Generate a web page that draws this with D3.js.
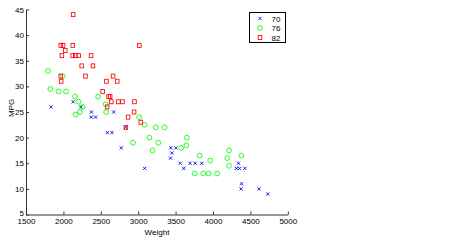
<!DOCTYPE html>
<html>
<head>
<meta charset="utf-8">
<script src="https://cdn.jsdelivr.net/npm/d3@7"></script>
<style>
  body { margin: 0; background: #fff; }
  text { font-family: "Liberation Sans", Arial, sans-serif; }
</style>
</head>
<body>
<div id="drawing"></div>
<script>
// carsmall: Weight vs MPG, grouped by model year
const years = ["70", "76", "82"];

const weight70 = [3504, 3693, 3436, 3433, 3449, 4341, 4354, 4312, 4425, 3850, 3563, 3609, 3761, 3086,
  2372, 2833, 2774, 2587, 2130, 1835, 2672, 2430, 2375, 2234, 2648, 4615, 4376, 4382, 4732];
const mpg70 = [18, 15, 18, 16, 17, 15, 14, 14, 14, 15, 15, 14, 15, 14,
  24, 22, 18, 21, 27, 26, 25, 24, 25, 26, 21, 10, 10, 11, 9];

const weight76 = [2464, 2220, 2572, 2255, 2202, 4215, 4190, 3962, 4215, 3233, 3353, 3012, 3085, 2035,
  2164, 1937, 1795, 3651, 3574, 3645, 3193, 1825, 1990, 2155, 2565, 3150, 3940, 3270, 2930,
  3820, 4380, 4055, 3870, 3755];
const mpg76 = [28, 25, 25, 26, 27, 17.5, 16, 15.5, 14.5, 22, 22, 24, 22.5, 29,
  24.5, 29, 33, 20, 18, 18.5, 17.5, 29.5, 32, 28, 26.5, 20, 13, 19, 19,
  16.5, 16.5, 13, 13, 13];

const weight82 = [2605, 2640, 2395, 2575, 2525, 2735, 2865, 3035, 1980, 2025, 1970, 2125, 2125, 2160,
  2205, 2245, 1965, 1965, 1995, 2945, 3015, 2585, 2835, 2665, 2370, 2950, 2790, 2130, 2295, 2625, 2720];
const mpg82 = [28, 27, 34, 31, 29, 27, 24, 23, 36, 37, 31, 38, 36, 36,
  36, 34, 38, 32, 38, 25, 38, 26, 22, 32, 36, 27, 27, 44, 32, 28, 31];

const xTicks = [1500, 2000, 2500, 3000, 3500, 4000, 4500, 5000];
const yTicks = [5, 10, 15, 20, 25, 30, 35, 40, 45];

const groups = [
  { name: years[0], w: weight70, m: mpg70, color: "#0000ff", shape: "x" },
  { name: years[1], w: weight76, m: mpg76, color: "#00ff00", shape: "o" },
  { name: years[2], w: weight82, m: mpg82, color: "#ff0000", shape: "s" },
];

const svg = d3.select("#drawing").append("svg")
  .attr("width", 468)
  .attr("height", 240);

const x = d3.scaleLinear().domain([1500, 5000]).range([26, 287.8]);
const y = d3.scaleLinear().domain([5, 45]).range([214.5, 9.5]);

const axisColor = "#333";

// axes with inward ticks, no box
const gx = svg.append("g")
  .attr("transform", `translate(0,${y(5)})`)
  .call(d3.axisBottom(x).tickValues(xTicks).tickSizeInner(-3).tickSizeOuter(0).tickPadding(4)
    .tickFormat(d3.format("d")));

const gy = svg.append("g")
  .attr("transform", `translate(${x(1500)},0)`)
  .call(d3.axisLeft(y).tickValues(yTicks).tickSizeInner(-3).tickSizeOuter(0).tickPadding(2));

[gx, gy].forEach((g) => {
  g.selectAll("path, line").attr("stroke", axisColor);
  g.selectAll("text").attr("fill", "#000").style("font-size", "8px")
    .style("font-family", "'Liberation Sans', Arial, sans-serif");
});
// lowest y label sits a touch higher so it clears the 1500 label
gy.selectAll(".tick text").filter((d) => d === 5).attr("dy", "0.1em");

// axis labels
svg.append("text")
  .attr("x", 157)
  .attr("y", 235)
  .attr("text-anchor", "middle")
  .style("font-size", "8px")
  .text("Weight");

svg.append("text")
  .attr("transform", "translate(13.5,108) rotate(-90)")
  .attr("text-anchor", "middle")
  .style("font-size", "8px")
  .text("MPG");

function drawMarker(sel, shape, color) {
  if (shape === "x") {
    sel.append("path")
      .attr("d", "M-1.6,-1.6L1.6,1.6M-1.6,1.6L1.6,-1.6")
      .attr("stroke", color).attr("fill", "none").attr("stroke-width", 0.9);
  } else if (shape === "o") {
    sel.append("circle")
      .attr("r", 2.4)
      .attr("stroke", color).attr("fill", "none").attr("stroke-width", 0.85);
  } else {
    sel.append("rect")
      .attr("x", -1.8).attr("y", -2)
      .attr("width", 3.6).attr("height", 4)
      .attr("stroke", color).attr("fill", "none").attr("stroke-width", 0.85);
  }
}

groups.forEach((g) => {
  const pts = g.w.map((w, i) => ({ w: w, m: g.m[i] }));
  svg.append("g")
    .selectAll("g.pt")
    .data(pts)
    .enter()
    .append("g")
    .attr("class", "pt")
    .attr("transform", (d) => `translate(${x(d.w)},${y(d.m)})`)
    .each(function () { drawMarker(d3.select(this), g.shape, g.color); });
});

// legend
const legend = svg.append("g").attr("transform", "translate(249.5,12.5)");
legend.append("rect")
  .attr("width", 36).attr("height", 30)
  .attr("fill", "#fff").attr("stroke", "#000").attr("stroke-width", 1);

groups.forEach((g, i) => {
  const row = legend.append("g").attr("transform", `translate(0,${6 + i * 9.5})`);
  const mk = row.append("g").attr("transform", "translate(10.5,0)");
  drawMarker(mk, g.shape, g.color);
  row.append("text")
    .attr("x", 22)
    .attr("y", 3)
    .style("font-size", "8px")
    .text(g.name);
});
</script>
</body>
</html>
